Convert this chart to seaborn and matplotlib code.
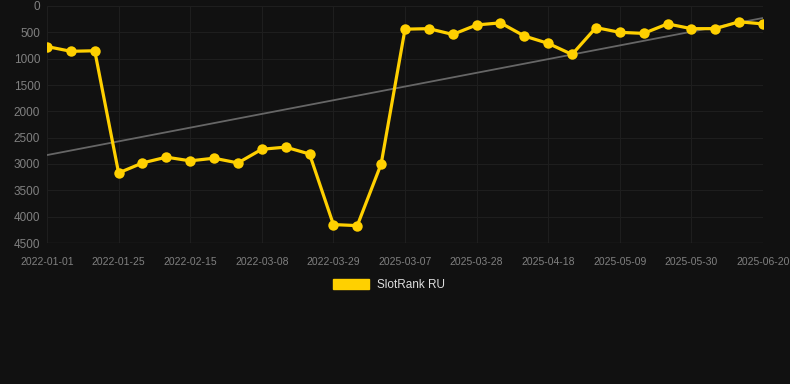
import numpy as np
import pandas as pd
import seaborn as sns
from matplotlib import pyplot as plt
from matplotlib.patches import Patch

# rank values, one point per week (lower = better)
ranks = [770, 860, 850, 3170, 2980, 2870, 2940, 2890, 2980, 2720,
         2680, 2810, 4150, 4170, 3000, 440, 430, 540, 360, 320,
         570, 710, 920, 410, 500, 520, 340, 430, 430, 300, 340]
tick_labels = ['2022-01-01', '2022-01-25', '2022-02-15', '2022-03-08', '2022-03-29',
               '2025-03-07', '2025-03-28', '2025-04-18', '2025-05-09', '2025-05-30',
               '2025-06-20']
y_ticks = [0, 500, 1000, 1500, 2000, 2500, 3000, 3500, 4000, 4500]

bg = '#111111'
yellow = '#FFD000'

df = pd.DataFrame({'idx': np.arange(len(ranks)), 'rank': ranks})
# linear trend over the series
k, b = np.polyfit(df['idx'], df['rank'], 1)
df['trend'] = k * df['idx'] + b

sns.set_style('dark')
plt.rcParams['font.family'] = ['Liberation Sans', 'DejaVu Sans']

fig = plt.figure(figsize=(7.9, 3.84), dpi=100, facecolor=bg)
ax = fig.add_axes([47 / 790, 1 - 243 / 384, (763 - 47) / 790, (243 - 6) / 384])
ax.set_facecolor(bg)

sns.lineplot(x='idx', y='trend', data=df, color='#666666', linewidth=1.3, ax=ax, zorder=2)
sns.lineplot(x='idx', y='rank', data=df, color=yellow, linewidth=2.3, marker='o',
             markersize=7.5, markeredgewidth=0, ax=ax, zorder=3)

ax.set_xlim(0, len(ranks) - 1)
ax.set_ylim(4500, 0)
ax.set_xticks(np.arange(0, len(ranks), 3))
ax.set_xticklabels(tick_labels)
ax.set_yticks(y_ticks)
ax.set_xlabel('')
ax.set_ylabel('')
ax.tick_params(axis='x', colors='#808080', labelsize=7.5, length=0, pad=10)
ax.tick_params(axis='y', colors='#808080', labelsize=8.5, length=0, pad=5)
ax.grid(True, color='#1e1e1e', linewidth=0.8)
for s in ax.spines.values():
    s.set_visible(False)
ax.axhline(4500, color='#292929', linewidth=1, zorder=1)

handle = Patch(facecolor=yellow, edgecolor=yellow)
fig.legend([handle], ['SlotRank RU'], loc='center', bbox_to_anchor=(0.492, 1 - 285 / 384),
           frameon=False, fontsize=8.5, labelcolor='#dddddd', handlelength=3.1,
           handleheight=0.9, handletextpad=0.6)

plt.savefig('out.png', dpi=100, facecolor=bg)
